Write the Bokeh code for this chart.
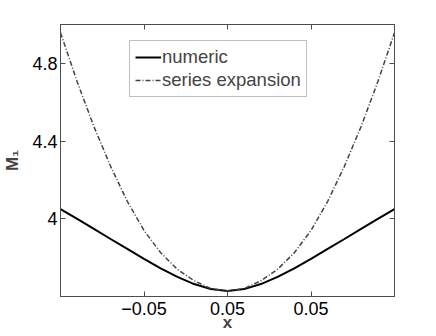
from bokeh.plotting import figure
from bokeh.models import Range1d, FixedTicker, LinearAxis, Legend, LegendItem
from bokeh.embed import file_html
from bokeh.resources import INLINE

# data
x_vals = [-0.10, -0.09, -0.08, -0.07, -0.06, -0.05, -0.04, -0.03, -0.02, -0.01, 0.00,
          0.01, 0.02, 0.03, 0.04, 0.05, 0.06, 0.07, 0.08, 0.09, 0.10]
numeric = [4.050, 3.999, 3.948, 3.896, 3.845, 3.794, 3.745, 3.701, 3.664, 3.638, 3.628,
           3.638, 3.664, 3.701, 3.745, 3.794, 3.845, 3.896, 3.948, 3.999, 4.050]
series_exp = [4.958, 4.705, 4.475, 4.270, 4.090, 3.940, 3.825, 3.740, 3.681, 3.641, 3.628,
              3.641, 3.681, 3.740, 3.825, 3.940, 4.090, 4.270, 4.475, 4.705, 4.958]
x_ticks = [-0.05, 0.0, 0.05]
x_tick_labels = ["\u22120.05", "0.05", "0.05"]
y_ticks = [4.0, 4.4, 4.8]
y_tick_labels = ["4", "4.4", "4.8"]

FONT = "Liberation Sans"
AX = "#4d4d4d"

p = figure(width=436, height=336, output_backend="svg", toolbar_location=None,
           x_range=Range1d(-0.1, 0.1), y_range=Range1d(3.6, 5.0),
           min_border_left=58, min_border_top=24, min_border_right=42, min_border_bottom=40)
p.xgrid.visible = False
p.ygrid.visible = False
p.outline_line_color = AX
p.outline_line_width = 1
p.background_fill_color = "white"
p.border_fill_color = "white"

r1 = p.line(x_vals, numeric, line_color="black", line_width=2)
r2 = p.line(x_vals, series_exp, line_color="#444444", line_width=1.5, line_dash="5 2 1 2")

def style_axis(ax, labels_on=True):
    ax.axis_line_color = AX
    ax.major_tick_line_color = AX
    ax.major_tick_in = 5
    ax.major_tick_out = 0
    ax.minor_tick_line_color = None
    ax.major_label_text_font = FONT
    if labels_on:
        ax.major_label_text_font_size = "18px"
        ax.major_label_text_color = "black"
    else:
        ax.major_label_text_font_size = "1px"
        ax.major_label_text_color = None
        ax.major_label_standoff = 0

xa = p.xaxis[0]
xa.ticker = FixedTicker(ticks=x_ticks)
xa.major_label_overrides = {t: l for t, l in zip(x_ticks, x_tick_labels)}
style_axis(xa)
xa.major_label_standoff = 5
xa.axis_label = "x"
xa.axis_label_text_font = FONT
xa.axis_label_text_font_style = "bold"
xa.axis_label_text_font_size = "17px"
xa.axis_label_standoff = -5

ya = p.yaxis[0]
ya.ticker = FixedTicker(ticks=y_ticks)
ya.major_label_overrides = {t: l for t, l in zip(y_ticks, y_tick_labels)}
style_axis(ya)
ya.major_label_standoff = 3
ya.axis_label = "M\u2081"
ya.axis_label_text_font = FONT
ya.axis_label_text_font_style = "bold"
ya.axis_label_text_font_size = "17px"
ya.axis_label_standoff = 7

top = LinearAxis(ticker=FixedTicker(ticks=x_ticks))
style_axis(top, labels_on=False)
p.add_layout(top, "above")
right = LinearAxis(ticker=FixedTicker(ticks=y_ticks))
style_axis(right, labels_on=False)
p.add_layout(right, "right")

legend = Legend(items=[LegendItem(label="numeric", renderers=[r1]),
                       LegendItem(label="series expansion", renderers=[r2])],
                location=(69, 199))
legend.label_text_font = FONT
legend.label_text_font_size = "18.5px"
legend.label_height = 20
legend.glyph_height = 20
legend.glyph_width = 26
legend.label_standoff = 1
legend.spacing = 1
legend.padding = 5
legend.margin = 0
legend.border_line_color = "#808080"
legend.border_line_width = 1
legend.background_fill_color = "white"
legend.background_fill_alpha = 1
p.add_layout(legend, "center")

open("out.html", "w").write(file_html(p, INLINE))
